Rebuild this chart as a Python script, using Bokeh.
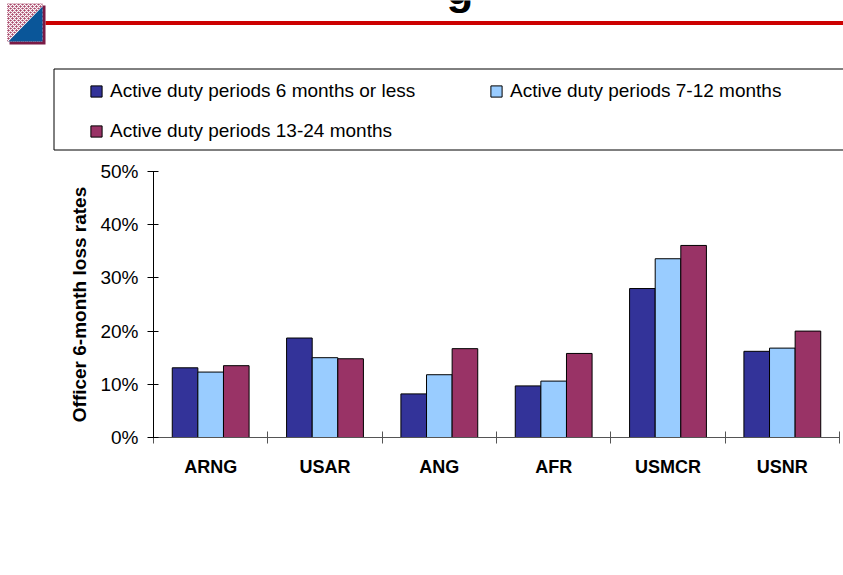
import numpy as np
from bokeh.plotting import figure
from bokeh.layouts import column
from bokeh.models import (Range1d, FixedTicker, NumeralTickFormatter, ColumnDataSource,
                          Legend, LegendItem)
from bokeh.core.properties import value
from bokeh.transform import dodge
from bokeh.embed import file_html
from bokeh.resources import INLINE

# ---------------- data ----------------
categories = ["ARNG", "USAR", "ANG", "AFR", "USMCR", "USNR"]
series_names = ["Active duty periods 6 months or less",
                "Active duty periods 7-12 months",
                "Active duty periods 13-24 months"]
le_6 = [0.131, 0.187, 0.082, 0.097, 0.280, 0.162]
m_7_12 = [0.123, 0.150, 0.118, 0.106, 0.336, 0.168]
m_13_24 = [0.135, 0.148, 0.167, 0.158, 0.361, 0.200]
y_ticks = [0.0, 0.1, 0.2, 0.3, 0.4, 0.5]
y_label = "Officer 6-month loss rates"

colors = ["#333399", "#99CCFF", "#993366"]
FONT = "Liberation Sans"

W = 843
HEAD_H = 160
MAIN_H = 407

# ---------------- header (logo, rule, legend) ----------------
hd = figure(width=W, height=HEAD_H, x_range=Range1d(0, W), y_range=Range1d(HEAD_H, 0),
            output_backend="svg", toolbar_location=None,
            x_axis_location=None, y_axis_location=None,
            min_border_left=0, min_border_right=0, min_border_top=0, min_border_bottom=0)
hd.frame_align = False
hd.outline_line_color = None
hd.xgrid.visible = False
hd.ygrid.visible = False
hd.background_fill_color = "white"
hd.border_fill_color = "white"

# red rule
hd.quad(left=[45], right=[W], top=[20.5], bottom=[24.5], fill_color="#cc0000", line_color=None)
# logo
hd.quad(left=[9], right=[45], top=[5], bottom=[44], fill_color="#7a1a45", line_color=None)
hd.quad(left=[6.5], right=[42], top=[3], bottom=[41], fill_color="#a84468", line_color=None,
        hatch_pattern="x", hatch_color="white", hatch_scale=4, hatch_weight=1.2)
hd.patch(x=[8, 42, 42], y=[41, 41, 6], fill_color="#0a5699", line_color=None)
# cut-off title fragment
hd.text(x=[459.5], y=[-12], text=["g"], text_font=value(FONT), text_font_style="bold",
        text_font_size="44px", text_align="center", text_baseline="alphabetic",
        text_color="black")
# legend frame
hd.quad(left=[53.5], right=[W + 20], top=[68.5], bottom=[149.5], fill_color="white",
        line_color="black", line_width=1)

# legend swatches (single off-screen point each, only used for the legend glyph)
leg_r = [hd.scatter(x=[-500], y=[-500], marker="square", fill_color=c, line_color="black",
                    line_width=1) for c in colors]
legend = Legend(items=[LegendItem(label=n, renderers=[r]) for n, r in zip(series_names, leg_r)],
                location=(82, HEAD_H - 145), orientation="horizontal", ncols=2,
                glyph_width=28, glyph_height=28, label_standoff=0, label_width=360,
                spacing=12, padding=0, margin=0,
                border_line_color=None, background_fill_alpha=0,
                label_text_font=FONT, label_text_font_size="19px", label_text_color="black")
hd.add_layout(legend)

# ---------------- main chart ----------------
p = figure(width=W, height=MAIN_H, x_range=Range1d(0, len(categories)), y_range=Range1d(0, 0.5),
           output_backend="svg", toolbar_location=None,
           min_border_left=153, min_border_right=4, min_border_top=11, min_border_bottom=130)
p.frame_align = False
p.outline_line_color = None
p.xgrid.visible = False
p.ygrid.visible = False
p.background_fill_color = "white"
p.border_fill_color = "white"

centers = list(np.arange(len(categories)) + 0.5)
src = ColumnDataSource(dict(xc=centers, a=le_6, b=m_7_12, c=m_13_24))
bar_w = 0.224
for k, field in enumerate(["a", "b", "c"]):
    p.vbar(x=dodge("xc", (k - 1) * bar_w, range=p.x_range), top=field, width=bar_w,
           source=src, fill_color=colors[k], line_color="black", line_width=1)

# x axis: category labels at centres, ticks at category boundaries
xa = p.xaxis[0]
xa.ticker = FixedTicker(ticks=centers, minor_ticks=list(range(len(categories) + 1)))
xa.major_label_overrides = {float(c): n for c, n in zip(centers, categories)}
xa.major_tick_in = 0
xa.major_tick_out = 0
xa.minor_tick_in = 6
xa.minor_tick_out = 6
xa.axis_line_color = "#555555"
xa.minor_tick_line_color = "#555555"
xa.major_label_text_font = FONT
xa.major_label_text_font_style = "bold"
xa.major_label_text_font_size = "18px"
xa.major_label_text_color = "black"
xa.major_label_standoff = 13

ya = p.yaxis[0]
ya.ticker = FixedTicker(ticks=y_ticks)
ya.formatter = NumeralTickFormatter(format="0%")
ya.major_tick_in = 5
ya.major_tick_out = 6
ya.minor_tick_in = 0
ya.minor_tick_out = 0
ya.axis_line_color = "black"
ya.major_tick_line_color = "black"
ya.major_label_text_font = FONT
ya.major_label_text_font_size = "19px"
ya.major_label_text_color = "black"
ya.major_label_standoff = 9
ya.axis_label = y_label
ya.axis_label_text_font = FONT
ya.axis_label_text_font_style = "bold"
ya.axis_label_text_font_size = "19px"
ya.axis_label_text_color = "black"
ya.axis_label_standoff = 7

layout = column(hd, p, spacing=0)
open("out.html", "w").write(file_html(layout, INLINE))
